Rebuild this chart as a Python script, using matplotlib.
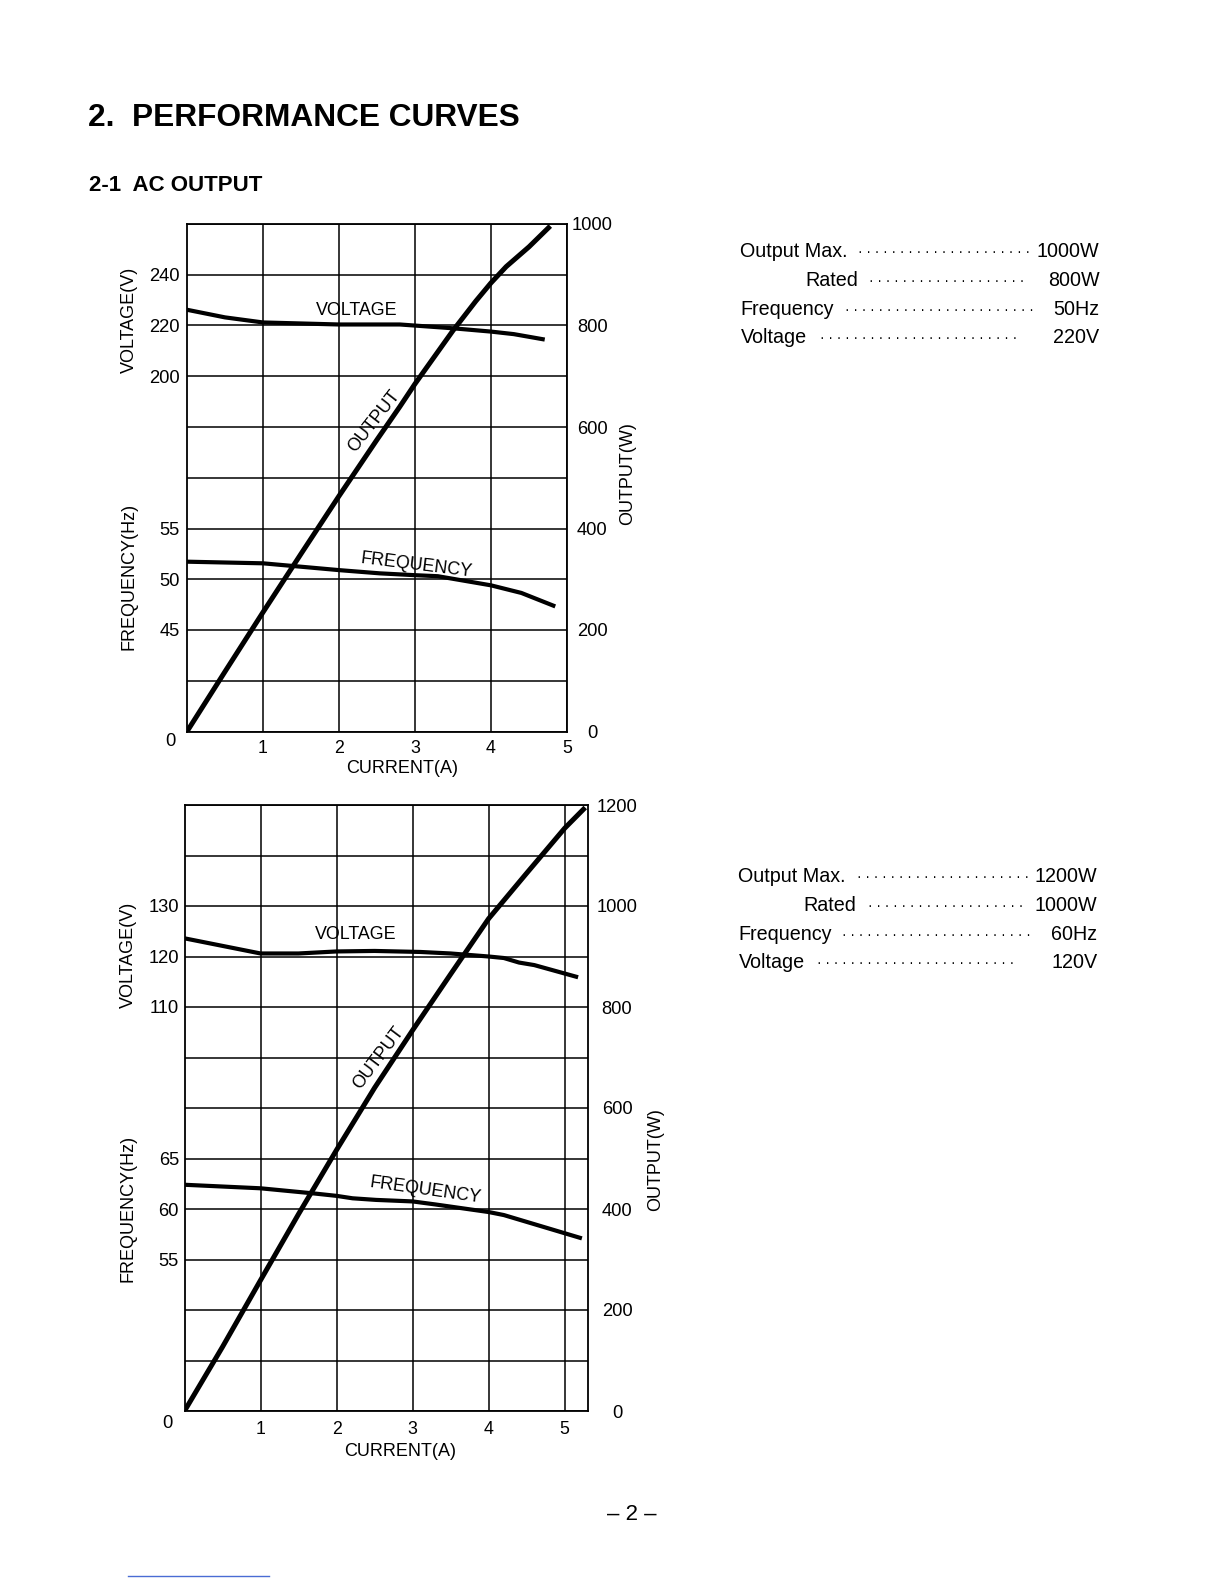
import numpy as np
import matplotlib
matplotlib.use("Agg")
import matplotlib.pyplot as plt
from matplotlib.lines import Line2D

plt.rcParams['font.family'] = ['Liberation Sans', 'DejaVu Sans']

# ---------------- data: 220V / 50Hz unit ----------------
a_out_current = [0, 0.5, 1, 1.5, 2, 2.5, 2.8, 3, 3.5, 3.8, 4, 4.2, 4.5, 4.78]
a_out_watts = [0, 118, 235, 350, 464, 575, 640, 685, 790, 848, 884, 916, 955, 996]
a_volt_current = [0, 0.5, 1, 2, 2.8, 3.5, 4, 4.3, 4.68]
a_volt_values = [226.2, 223.2, 221.2, 220.4, 220.4, 218.9, 217.6, 216.6, 214.6]
a_freq_current = [0, 1, 2, 2.54, 3, 3.3, 4, 4.4, 4.82]
a_freq_values = [51.73, 51.57, 50.9, 50.58, 50.4, 50.3, 49.4, 48.65, 47.4]
a_volt_ticks = [200, 220, 240]
a_freq_ticks = [45, 50, 55]
a_out_ticks = [0, 200, 400, 600, 800, 1000]
a_specs = [("Output Max.", "1000W"), ("Rated", "800W"), ("Frequency", "50Hz"), ("Voltage", "220V")]

# ---------------- data: 120V / 60Hz unit ----------------
b_out_current = [0, 0.5, 1, 1.5, 2, 2.5, 3, 3.5, 4, 4.5, 5, 5.27]
b_out_watts = [0, 127, 259, 390, 517, 640, 754, 865, 975, 1065, 1154, 1195]
b_volt_current = [0, 0.5, 1, 1.5, 2, 2.5, 3.1, 3.5, 4, 4.2, 4.4, 4.6, 5.15]
b_volt_values = [123.6, 122.1, 120.6, 120.6, 121.0, 121.1, 120.9, 120.6, 120.0, 119.7, 118.8, 118.3, 116.0]
b_freq_current = [0, 1, 1.69, 2, 2.21, 2.52, 3, 3.3, 4, 4.2, 4.6, 5.2]
b_freq_values = [62.4, 62.05, 61.55, 61.3, 61.06, 60.9, 60.75, 60.45, 59.7, 59.4, 58.5, 57.15]
b_volt_ticks = [110, 120, 130]
b_freq_ticks = [55, 60, 65]
b_out_ticks = [0, 200, 400, 600, 800, 1000, 1200]
b_specs = [("Output Max.", "1200W"), ("Rated", "1000W"), ("Frequency", "60Hz"), ("Voltage", "120V")]

current_ticks = [1, 2, 3, 4, 5]

W, H = 1224, 1584
S = 1.0116  # layout positions below were measured on a slightly reduced view
fig = plt.figure(figsize=(W / 100, H / 100), dpi=100)
fig.patch.set_facecolor('white')


def fx(x, s=S):
    return x * s / W


def fy(y, s=S):
    return 1 - y * s / H


def panel(box, xmax, wmax, vlim, flim, out_c, out_w, v_c, v_v, f_c, f_v,
          vt, ft, ot, right_pad, left_pad, x_pad, labels):
    left, top, right, bottom = box
    ax = fig.add_axes([left / W, 1 - bottom / H, (right - left) / W, (bottom - top) / H])
    ax.set_xlim(0, xmax)
    ax.set_ylim(0, wmax)

    axv = ax.twinx()
    axv.set_ylim(*vlim)
    axv.set_yticks(vt)
    axv.tick_params(axis='y', length=0, left=False, right=False,
                    labelleft=True, labelright=False, pad=left_pad, labelsize=13.2)
    axv.plot(v_c, v_v, color='black', lw=3.0, zorder=5)
    for s in axv.spines.values():
        s.set_visible(False)

    axf = ax.twinx()
    axf.set_ylim(*flim)
    axf.set_yticks(ft)
    axf.tick_params(axis='y', length=0, left=False, right=False,
                    labelleft=True, labelright=False, pad=left_pad, labelsize=13.2)
    axf.plot(f_c, f_v, color='black', lw=3.0, zorder=5)
    for s in axf.spines.values():
        s.set_visible(False)

    # main (output) axis: ticks on the right
    ax.yaxis.tick_right()
    ax.set_yticks(np.arange(0, wmax + 1, 100), minor=True)
    ax.set_yticks(ot)
    ax.set_xticks(current_ticks)
    ax.grid(True, which='both', color='black', lw=1.1)
    ax.set_axisbelow(True)
    ax.tick_params(axis='y', which='both', length=0, left=False, right=False,
                   labelleft=False, labelright=True, pad=right_pad, labelsize=13.2)
    for t in ax.get_yticklabels():
        t.set_ha('center')
    ax.tick_params(axis='x', length=0, pad=x_pad, labelsize=12.8)
    for s in ax.spines.values():
        s.set_linewidth(1.3)
    ax.plot(out_c, out_w, color='black', lw=3.6, solid_capstyle='butt', zorder=5)

    (vx, vy), (ox, oy, orot), (qx, qy, qrot) = labels
    axv.text(vx, vy, "VOLTAGE", fontsize=12.9, ha='center', va='center')
    ax.text(ox, oy, "OUTPUT", fontsize=12.9, ha='center', va='center', rotation=orot)
    axf.text(qx, qy, "FREQUENCY", fontsize=12.9, ha='center', va='center', rotation=qrot)
    return ax


# top panel (220V / 50Hz)
ax1 = panel((187, 224, 567, 731.5), 5, 1000, (60, 260), (35, 85),
            a_out_current, a_out_watts, a_volt_current, a_volt_values,
            a_freq_current, a_freq_values, a_volt_ticks, a_freq_ticks, a_out_ticks,
            18.2, 5, 6, ((2.23, 226.0), (2.46, 612, 52), (3.02, 51.35, -7)))
ax1.annotate("0", xy=(0, 0), xytext=(-12.2, -7.2), textcoords='offset points',
             ha='center', va='center', fontsize=13.2)

# bottom panel (120V / 60Hz)
ax2 = panel((184.5, 805, 587.5, 1411), 5.3, 1200, (30, 150), (40, 100),
            b_out_current, b_out_watts, b_volt_current, b_volt_values,
            b_freq_current, b_freq_values, b_volt_ticks, b_freq_ticks, b_out_ticks,
            21.2, 4, 7, ((2.25, 124.4), (2.55, 700, 53), (3.17, 61.85, -8)))
ax2.annotate("0", xy=(0, 0), xytext=(-12.6, -9.2), textcoords='offset points',
             ha='center', va='center', fontsize=13.2)

# axis titles
lab = dict(fontsize=13, ha='center', va='center')
fig.text(fx(128), fy(316), "VOLTAGE(V)", rotation=90, **lab)
fig.text(fx(128), fy(570), "FREQUENCY(Hz)", rotation=90, **lab)
fig.text(fx(620), fy(468), "OUTPUT(W)", rotation=90, **lab)
fig.text(fx(398), fy(760), "CURRENT(A)", **lab)
fig.text(fx(127), fy(944), "VOLTAGE(V)", rotation=90, **lab)
fig.text(fx(127), fy(1195), "FREQUENCY(Hz)", rotation=90, **lab)
fig.text(fx(648), fy(1146), "OUTPUT(W)", rotation=90, **lab)
fig.text(fx(396), fy(1435), "CURRENT(A)", **lab)

# headings
fig.text(fx(87), fy(117), "2.  PERFORMANCE CURVES", fontsize=22.8, fontweight='bold',
         ha='left', va='center')
fig.text(fx(88), fy(183), "2-1  AC OUTPUT", fontsize=16, fontweight='bold',
         ha='left', va='center')


def spec_block(specs, lx, rated_x, baselines, dot_ranges, vx):
    for (name, val), yb, (d0, d1) in zip(specs, baselines, dot_ranges):
        x0 = rated_x if name == "Rated" else lx
        fig.text(fx(x0), fy(yb), name, fontsize=14.2, ha='left', va='baseline')
        n = int(round((d1 - d0) * S / 8.5)) + 1
        fig.text(fx(d0), fy(yb - 1), " ".join(["·"] * n), fontsize=10,
                 ha='left', va='baseline')
        fig.text(fx(vx), fy(yb), val, fontsize=14.2, ha='right', va='baseline')


spec_block(a_specs, 732, 796, [254, 283, 311, 339],
           [(848, 1018), (859, 1010), (835, 1018), (811, 1003)], 1087)
spec_block(b_specs, 730, 794, [872, 901, 929, 957],
           [(847, 1015), (858, 1008), (832, 1015), (808, 1000)], 1085)

fig.text(fx(625), fy(1497), "– 2 –", fontsize=16, ha='center', va='center')
fig.add_artist(Line2D([fx(127), fx(266)], [fy(1558), fy(1558)], color='#4a6cd4', lw=1))

fig.savefig("out.png", dpi=100, facecolor='white')
